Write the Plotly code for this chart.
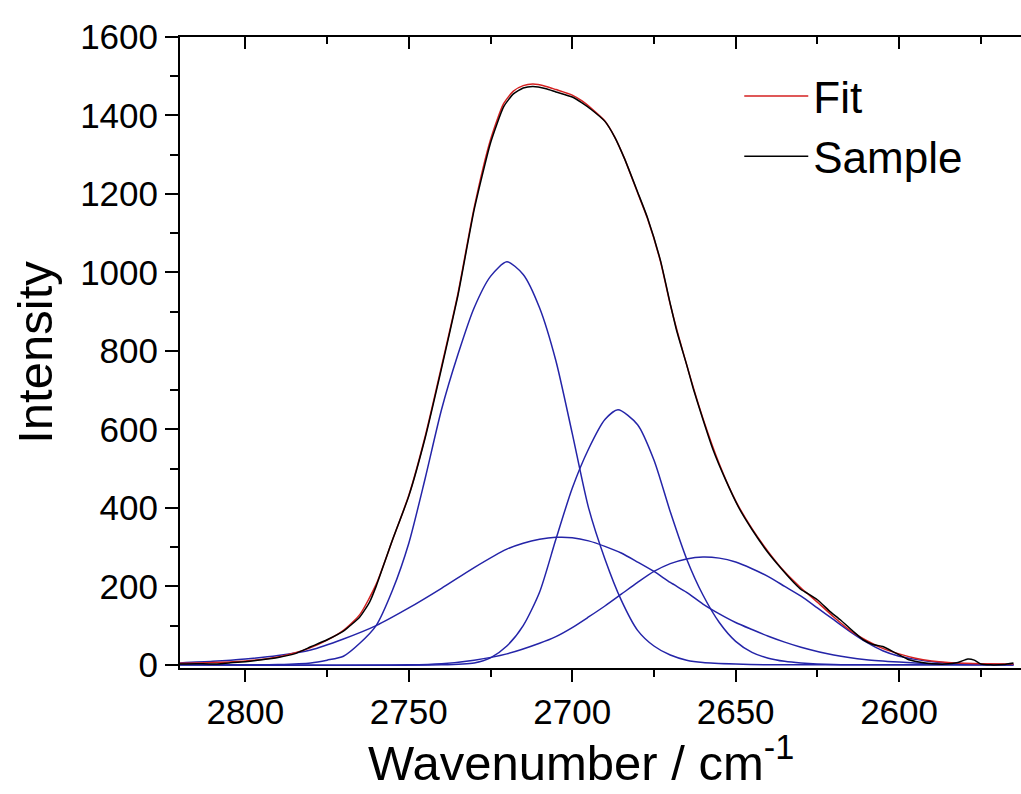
import plotly.graph_objects as go

# ---- data ----
sample_x = [2820, 2815, 2810, 2805, 2800, 2795, 2790, 2785, 2780, 2775, 2770, 2765, 2762, 2760,
            2755, 2750, 2745, 2740, 2735, 2730, 2725, 2721, 2718, 2715, 2712, 2708, 2705, 2700,
            2697, 2694, 2690, 2687, 2684, 2680, 2677, 2673, 2670, 2668, 2665, 2663, 2660, 2657,
            2653, 2649, 2645, 2640, 2636, 2632, 2630, 2628, 2625, 2621, 2618, 2614, 2611, 2608,
            2605, 2601, 2597, 2593, 2590, 2586, 2582, 2579, 2577, 2575, 2572, 2568, 2565]
sample_y = [2, 3, 2, 5, 8, 13, 19, 28, 46, 64, 86, 122, 160, 200,
            318, 430, 578, 755, 940, 1160, 1330, 1422, 1455, 1470, 1474, 1468, 1460, 1447,
            1432, 1414, 1385, 1345, 1290, 1205, 1140, 1030, 920, 850, 765, 705, 625, 550,
            470, 400, 345, 285, 245, 208, 192, 182, 166, 135, 115, 85, 64, 52,
            47, 30, 13, 6, 3, 2, 6, 15, 12, 2, 0, 1, 5]

fit_x = [2820, 2810, 2800, 2790, 2785, 2780, 2775, 2770, 2765, 2760, 2755, 2750, 2745, 2740,
         2735, 2730, 2725, 2721, 2718, 2715, 2712, 2708, 2705, 2700, 2697, 2694, 2690, 2687,
         2684, 2680, 2677, 2673, 2670, 2665, 2660, 2655, 2650, 2645, 2640, 2635, 2630, 2625,
         2620, 2615, 2610, 2605, 2600, 2595, 2590, 2585, 2580, 2575, 2565]
fit_y = [4, 6, 10, 20, 30, 44, 63, 88, 128, 205, 318, 432, 582, 760,
         945, 1165, 1338, 1430, 1462, 1476, 1480, 1474, 1466, 1452, 1437, 1417, 1386, 1345,
         1290, 1203, 1138, 1028, 918, 765, 628, 512, 418, 347, 288, 237, 196, 160,
         122, 88, 62, 42, 28, 17, 10, 6, 4, 3, 2]

peak1_x = [2820, 2800, 2790, 2780, 2775, 2770, 2765, 2760, 2755, 2750, 2745, 2740, 2735, 2730,
           2725, 2720, 2715, 2710, 2705, 2700, 2695, 2690, 2685, 2680, 2675, 2670, 2665, 2660,
           2650, 2640, 2565]
peak1_y = [0, 0, 1, 5, 12, 22, 55, 100, 190, 310, 475, 650, 790, 910,
           990, 1027, 995, 910, 775, 590, 400, 270, 165, 88, 48, 25, 12, 6,
           2, 0, 0]

peak2_x = [2820, 2740, 2730, 2725, 2720, 2715, 2710, 2705, 2700, 2695, 2690, 2686, 2680, 2675,
           2670, 2665, 2660, 2655, 2650, 2645, 2640, 2635, 2630, 2620, 2600, 2565]
peak2_y = [0, 0, 5, 18, 48, 100, 185, 320, 450, 550, 625, 650, 612, 522,
           390, 270, 178, 108, 60, 32, 17, 9, 5, 1, 0, 0]

peak3_x = [2820, 2810, 2800, 2790, 2780, 2770, 2760, 2750, 2740, 2730, 2720, 2715, 2710, 2705,
           2700, 2695, 2690, 2685, 2680, 2675, 2670, 2665, 2660, 2655, 2650, 2645, 2640, 2635,
           2630, 2620, 2610, 2600, 2590, 2580, 2565]
peak3_y = [5, 9, 15, 24, 38, 66, 100, 145, 195, 248, 295, 310, 320, 325,
           324, 316, 302, 285, 262, 238, 210, 185, 155, 130, 108, 90, 73, 58,
           45, 25, 13, 7, 3, 1, 0]

peak4_x = [2820, 2750, 2740, 2730, 2720, 2710, 2705, 2700, 2695, 2690, 2685, 2680, 2675, 2670,
           2665, 2660, 2655, 2650, 2645, 2640, 2635, 2630, 2625, 2620, 2615, 2610, 2605, 2600,
           2595, 2590, 2580, 2570, 2565]
peak4_y = [0, 0, 3, 12, 28, 55, 72, 95, 122, 150, 180, 210, 238, 258,
           270, 275, 272, 262, 245, 225, 200, 175, 145, 115, 85, 58, 36, 22,
           14, 8, 3, 1, 0]

x_ticks = [2800, 2750, 2700, 2650, 2600]
y_ticks = [0, 200, 400, 600, 800, 1000, 1200, 1400, 1600]

BLUE = "#2424a8"
FONT = "Arial, Liberation Sans, sans-serif"

fig = go.Figure()
for px_, py_ in [(peak1_x, peak1_y), (peak2_x, peak2_y), (peak3_x, peak3_y), (peak4_x, peak4_y)]:
    fig.add_trace(go.Scatter(x=px_, y=py_, mode="lines",
                             line=dict(color=BLUE, width=1.5, shape="spline", smoothing=0.7),
                             showlegend=False, hoverinfo="skip"))
fig.add_trace(go.Scatter(x=fit_x, y=fit_y, mode="lines", name="Fit",
                         line=dict(color="#d42020", width=1.5, shape="spline", smoothing=0.6)))
fig.add_trace(go.Scatter(x=sample_x, y=sample_y, mode="lines", name="Sample",
                         line=dict(color="black", width=1.5, shape="spline", smoothing=0.5)))
# invisible trace to carry the top (mirror) axis
fig.add_trace(go.Scatter(x=[2700], y=[0], xaxis="x2", mode="lines", showlegend=False,
                         hoverinfo="skip", line=dict(width=0)))

fig.update_layout(
    width=1021, height=794,
    margin=dict(l=180, r=0, t=37, b=126),
    paper_bgcolor="white", plot_bgcolor="white",
    font=dict(family=FONT, color="black"),
    showlegend=True,
    legend=dict(x=0.665, y=0.962, xanchor="left", yanchor="top",
                font=dict(size=44, family=FONT), bgcolor="rgba(0,0,0,0)",
                itemwidth=64, tracegroupgap=0),
    xaxis=dict(range=[2820, 2562.7], tickvals=x_ticks, ticks="outside", ticklen=12,
               tickwidth=2, tickcolor="black", showline=True, linewidth=2, linecolor="black",
               showgrid=False, zeroline=False, mirror=False,
               tickfont=dict(size=35, family=FONT),
               minor=dict(dtick=25, tick0=2800, ticks="outside", ticklen=7, tickwidth=2,
                          tickcolor="black", showgrid=False)),
    xaxis2=dict(matches="x", overlaying="x", side="top", ticks="inside", ticklen=12,
                tickwidth=2, tickcolor="black", tickvals=x_ticks, showticklabels=False,
                showline=True, linewidth=2, linecolor="black", showgrid=False, zeroline=False,
                minor=dict(dtick=25, tick0=2800, ticks="inside", ticklen=7, tickwidth=2,
                           tickcolor="black", showgrid=False)),
    yaxis=dict(range=[-8, 1600], tickvals=y_ticks, ticks="outside", ticklen=13,
               tickwidth=2, tickcolor="black", showline=True, linewidth=2, linecolor="black",
               showgrid=False, zeroline=False, mirror=False,
               tickfont=dict(size=35, family=FONT),
               minor=dict(dtick=100, tick0=0, ticks="outside", ticklen=8, tickwidth=2,
                          tickcolor="black", showgrid=False),
               title=dict(text="Intensity", font=dict(size=49, family=FONT), standoff=12)),
    annotations=[dict(text="Wavenumber / cm<sup>-1</sup>", xref="paper", yref="paper",
                      x=0.477, y=-0.197, xanchor="center", yanchor="bottom", showarrow=False,
                      font=dict(size=49, family=FONT))],
)

fig.write_html("out.html")
